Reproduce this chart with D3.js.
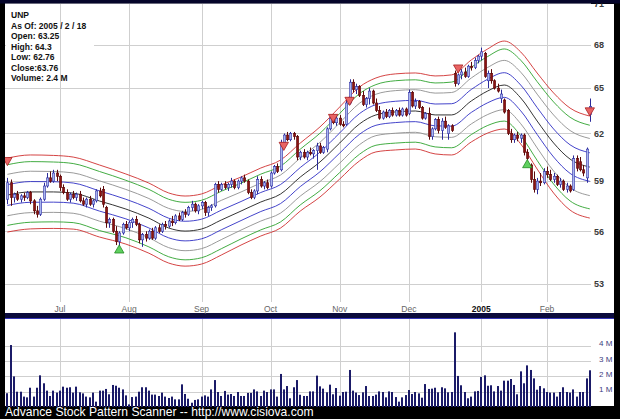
<!DOCTYPE html>
<html><head><meta charset="utf-8">
<script src="https://cdn.jsdelivr.net/npm/d3@7"></script>
<style>body{margin:0;background:#000;}svg{display:block;}</style>
</head><body>
<svg id="c" width="620" height="419"></svg>
<script>
// ---------------- DATA ----------------
const ticker = "UNP";
const asOf = "2005 / 2 / 18";
const opens = [57.9,58.9,58.0,58.2,57.9,58.1,58.0,58.3,57.8,57.2,57.0,57.9,58.7,59.2,59.0,59.5,59.3,58.6,58.3,57.9,58.2,58.0,58.2,57.8,57.6,57.9,57.6,57.8,58.4,58.5,
57.4,56.5,56.7,56.0,55.4,55.9,56.4,56.2,56.5,56.7,56.4,55.5,55.8,55.6,56.0,55.6,56.2,56.0,56.4,56.3,56.6,56.5,56.9,56.7,57.1,57.0,57.4,57.6,57.2,57.5,
57.7,57.1,57.4,57.5,58.8,58.5,58.8,58.6,58.8,59.0,58.6,59.0,59.2,59.0,58.3,58.0,58.4,59.1,58.7,58.9,58.7,59.5,59.9,59.7,61.4,61.9,61.6,62.0,61.8,60.5,
60.8,60.5,60.8,60.7,60.9,61.2,60.8,61.0,62.3,63.0,62.7,63.0,62.6,62.6,64.0,65.4,64.9,65.1,64.5,63.9,64.3,64.8,64.0,63.5,63.0,63.4,63.1,63.5,63.2,63.5,
63.2,63.6,63.3,64.7,63.8,64.1,63.7,63.0,63.3,61.8,62.3,62.9,62.2,62.8,62.0,62.5,66.0,65.3,65.9,66.1,65.8,66.5,66.4,66.9,67.2,67.4,65.5,66.0,65.5,65.0,
64.3,64.2,63.5,62.0,61.6,61.9,61.7,61.9,60.8,60.0,59.1,58.5,59.0,58.9,59.6,59.4,59.1,59.3,58.8,59.0,58.5,58.7,58.5,60.4,60.2,59.7,59.2,63.25];
const highs = [59.2,59.1,58.3,58.4,58.2,58.3,58.4,58.4,57.9,57.5,58.0,58.9,59.5,59.6,59.7,59.7,59.4,58.8,58.5,58.3,58.4,58.3,58.4,58.0,58.0,58.1,57.9,58.5,58.6,58.7,
57.5,56.8,56.8,56.3,56.0,56.5,56.6,56.6,56.8,56.9,56.5,55.9,56.0,56.1,56.2,56.3,56.4,56.5,56.6,56.7,56.9,57.0,57.1,57.2,57.3,57.5,57.8,57.7,57.6,57.8,
57.8,57.5,57.6,58.9,59.0,58.9,59.0,58.9,59.2,59.1,59.1,59.3,59.4,59.1,58.5,58.5,59.3,59.3,59.0,59.1,59.6,60.0,60.1,61.6,62.0,62.1,62.1,62.1,61.9,60.9,
61.0,60.9,61.1,61.0,61.4,61.4,61.2,62.4,63.2,63.2,63.1,63.2,62.8,64.2,65.6,65.6,65.3,65.2,64.8,64.4,65.0,64.9,64.3,63.8,63.5,63.6,63.6,63.7,63.6,63.7,
63.7,63.7,64.9,64.8,64.3,64.2,63.8,63.4,63.7,62.4,63.0,63.1,63.0,63.1,62.6,62.6,66.2,66.0,66.3,66.4,66.6,66.8,67.1,67.3,67.8,67.5,66.2,66.3,65.6,65.3,
64.9,64.3,63.6,62.3,62.0,62.1,62.0,62.0,61.0,60.1,59.6,59.2,59.5,59.8,59.9,59.7,59.5,59.4,59.2,59.1,58.9,58.8,60.6,60.6,60.5,60.0,61.1,64.3];
const lows = [57.6,57.5,57.7,57.8,57.7,57.8,57.9,57.6,57.0,56.8,56.9,57.8,58.6,58.9,58.9,59.0,58.4,58.2,57.8,57.7,57.9,57.8,57.7,57.5,57.4,57.5,57.4,57.7,58.0,57.4,
56.2,56.2,55.9,55.2,55.1,55.8,56.1,56.0,56.2,56.3,55.3,55.1,55.4,55.5,55.5,55.5,55.9,55.9,56.1,56.2,56.3,56.4,56.6,56.6,56.8,56.9,57.2,57.1,57.0,57.3,
56.9,56.9,57.2,57.4,58.3,58.4,58.5,58.4,58.6,58.5,58.5,58.8,58.9,58.2,57.9,57.9,58.2,58.6,58.5,58.5,58.6,59.4,59.5,59.6,61.1,61.5,61.5,61.6,60.3,60.3,
60.4,60.3,60.6,60.4,59.7,60.7,60.7,60.8,62.2,62.6,62.5,62.5,62.4,62.5,63.9,64.7,64.6,64.4,63.8,63.7,63.9,63.9,63.4,62.9,62.9,63.0,63.0,63.1,63.1,63.1,
63.1,63.1,63.2,63.7,63.6,63.6,62.9,62.9,61.6,61.6,62.2,62.0,61.6,62.3,61.6,62.1,65.1,65.2,65.6,65.7,65.7,66.2,66.3,66.7,66.9,65.7,65.0,65.3,64.9,64.7,
64.0,63.3,61.9,61.4,61.4,61.5,61.4,60.6,60.3,58.9,58.3,58.2,58.7,58.8,59.2,59.0,58.9,58.7,58.6,58.4,58.3,58.3,58.4,59.6,59.6,59.3,58.9,62.76];
const closes = [58.9,58.0,58.2,57.9,58.1,58.0,58.3,57.8,57.2,57.0,57.9,58.7,59.2,59.0,59.5,59.3,58.6,58.3,57.9,58.2,58.0,58.2,57.8,57.6,57.9,57.6,57.8,58.4,58.1,57.6,
56.5,56.7,56.0,55.4,55.9,56.4,56.2,56.5,56.7,56.4,55.5,55.8,55.6,56.0,55.6,56.2,56.0,56.4,56.3,56.6,56.5,56.9,56.7,57.1,57.0,57.4,57.6,57.2,57.5,57.7,
57.1,57.4,57.5,58.8,58.5,58.8,58.6,58.8,59.0,58.6,59.0,59.2,59.0,58.3,58.0,58.4,59.1,58.7,58.9,58.6,59.5,59.9,59.6,61.4,61.9,61.6,62.0,61.8,60.5,60.8,
60.5,60.8,60.7,60.9,61.2,60.8,61.1,62.3,63.0,62.7,63.0,62.6,62.5,64.0,65.4,64.9,65.1,64.5,63.9,64.3,64.8,64.0,63.5,63.0,63.4,63.1,63.5,63.2,63.5,63.2,
63.6,63.2,64.7,63.8,64.1,63.7,63.0,63.3,61.8,62.3,62.9,62.2,62.8,62.4,62.5,62.2,65.3,65.9,66.1,65.8,66.5,66.4,66.9,67.2,67.5,65.8,66.0,65.5,65.0,64.8,
64.6,63.4,62.0,61.6,61.9,61.7,61.9,60.8,60.4,59.1,58.5,59.0,58.9,59.6,59.4,59.1,59.3,58.8,59.0,58.5,58.7,58.4,60.4,59.8,59.7,59.5,61.0,63.76];
const volumes = [0.9,4.05,2.0,1.0,1.0,0.68,0.63,1.26,0.68,1.26,2.07,1.55,1.07,0.72,1.07,0.94,1.07,1.33,1.26,1.29,0.94,1.33,0.96,0.89,0.68,0.63,0.94,0.35,1.07,1.07,
1.18,0.83,1.44,1.39,1.26,1.15,0.76,0.17,0.65,0.68,1.0,1.29,1.29,1.07,0.81,0.81,0.72,0.94,0.68,0.59,0.68,0.5,0.5,1.48,0.85,0.54,0.28,0.46,0.5,0.68,
0.76,0.68,1.15,1.76,0.98,0.72,1.05,0.81,0.85,0.72,0.98,0.72,0.72,0.92,0.92,1.15,1.02,0.72,1.07,0.98,1.15,1.15,0.68,2.16,1.15,1.37,0.57,1.29,1.76,0.8,
0.72,0.72,1.02,1.02,2.05,1.35,1.2,0.96,1.46,0.83,1.24,0.74,0.98,1.0,2.42,1.07,0.94,0.78,0.96,1.37,0.72,0.72,0.81,1.02,0.98,0.63,1.02,0.98,0.65,0.35,
0.63,0.78,1.11,0.85,0.98,0.89,0.61,1.5,1.18,1.2,1.26,0.96,1.29,1.22,0.96,0.98,4.88,2.03,1.42,0.98,0.57,0.68,1.02,1.05,1.96,2.07,1.39,1.42,1.02,1.37,
1.07,1.72,1.72,1.83,1.44,0.83,2.33,1.55,2.72,2.42,1.87,1.13,1.37,1.22,0.98,0.94,0.94,0.68,0.98,1.29,0.98,0.94,1.15,0.68,0.98,0.98,1.87,2.4];

const monthLabels = ["Jul","Aug","Sep","Oct","Nov","Dec","2005","Feb"];
const monthIdx = [16,37,59,80,101,122,144,164];
const priceTicks = [53,56,59,62,65,68,71];
const volTicks = [1,2,3,4];
const volTickLabels = ["1 M","2 M","3 M","4 M"];

// smoothed centre line of the envelope and its half-width (%) at sample bars
const bandIdx = [0,7,14,20,28,36,43,49,54,59,65,71,77,83,89,95,101,107,112,118,124,130,135,141,146,151,156,161,166,171,177];
const bandMid = [58.15,58.34,58.34,58.27,57.79,57.31,56.77,56.19,56.01,56.13,56.66,57.19,57.73,58.21,59.25,60.19,61.39,62.62,63.21,63.41,63.47,63.21,63.21,64.14,64.81,65.21,64.34,62.81,61.39,60.37,59.87];
const bandPct = [3.85,3.85,3.8,3.75,3.75,3.65,3.65,3.65,3.65,3.65,3.65,3.54,3.54,3.54,3.54,3.65,3.75,3.85,3.85,3.96,3.96,4.06,4.17,4.27,4.38,4.58,4.79,5.0,5.21,5.31,5.31];
const bandLevels = [1,0.82,0.56,0.28,0,-0.28,-0.56,-0.82,-1];

const sellIdx = [0,84,99,104,137,177];
const sellPrice = [60.3,61.26,63.07,64.2,66.4,63.5];
const buyIdx = [34,158];
const buyPrice = [54.9,60.0];

// ---------------- DRAW ----------------
const svg = d3.select("#c");
const N = closes.length;
const L = 5, R = 614, PT = 4, PB = 313, VT = 319, VB = 406, PR = 591;

const x = d3.scaleLinear().domain([0, N - 1]).range([7.4, 589.8]);
const y = d3.scaleLog().domain([51.43, 70.95]).range([PB, PT]);
const yv = d3.scaleLinear().domain([0, 4]).range([407, 345.8]);

svg.append("rect").attr("x",0).attr("y",0).attr("width",620).attr("height",419).attr("fill","#000");
svg.append("rect").attr("x",L).attr("y",PT).attr("width",R-L).attr("height",PB-PT).attr("fill","#fff");
svg.append("rect").attr("x",L).attr("y",PB).attr("width",R-L).attr("height",VT-PB).attr("fill","#0b0b3c");
svg.append("rect").attr("x",L).attr("y",VT).attr("width",R-L).attr("height",VB-VT).attr("fill","#fff");
svg.append("line").attr("x1",L).attr("x2",R).attr("y1",VT-0.5).attr("y2",VT-0.5).attr("stroke","#3636b8");

const grid = "#cfcfcf";
// horizontal price grid
svg.append("g").selectAll("line").data(priceTicks).join("line")
  .attr("x1",L).attr("x2",PR).attr("y1",d=>Math.round(y(d))+0.5).attr("y2",d=>Math.round(y(d))+0.5)
  .attr("stroke",grid).attr("stroke-width",1);

// legend background
svg.append("rect").attr("x",L+1).attr("y",7).attr("width",88).attr("height",76).attr("fill","#fff");

// vertical month grid (price + volume)
svg.append("g").selectAll("line").data(monthIdx).join("line")
  .attr("x1",d=>Math.round(x(d))+0.5).attr("x2",d=>Math.round(x(d))+0.5)
  .attr("y1",PT).attr("y2",302).attr("stroke",grid);
svg.append("g").selectAll("line").data(monthIdx).join("line")
  .attr("x1",d=>Math.round(x(d))+0.5).attr("x2",d=>Math.round(x(d))+0.5)
  .attr("y1",VT).attr("y2",VB).attr("stroke",grid);
// volume horizontal grid
svg.append("g").selectAll("line").data(volTicks).join("line")
  .attr("x1",L).attr("x2",PR).attr("y1",d=>Math.round(yv(d))+0.5).attr("y2",d=>Math.round(yv(d))+0.5)
  .attr("stroke",grid);

// price labels
svg.append("g").selectAll("text").data(priceTicks).join("text")
  .attr("x",594).attr("y",d=>y(d)+3.3).text(d=>d)
  .attr("font-family","Liberation Sans, Arial, sans-serif").attr("font-size",9).attr("font-weight","bold").attr("fill","#3a3a3a");
// top dark strip covering top of "71"
svg.append("rect").attr("x",0).attr("y",0).attr("width",620).attr("height",PT-0.5).attr("fill","#05052a");

// month labels
svg.append("g").selectAll("text").data(monthLabels).join("text")
  .attr("x",(d,i)=>x(monthIdx[i])).attr("y",312).attr("text-anchor","middle").text(d=>d)
  .attr("font-family","Liberation Sans, Arial, sans-serif").attr("font-size",8.5)
  .attr("font-weight",d=>/^\d/.test(d)?"bold":"normal")
  .attr("fill",d=>/^\d/.test(d)?"#111":"#666");

// volume labels
svg.append("g").selectAll("text").data(volTicks).join("text")
  .attr("x",599).attr("y",d=>yv(d)+0.5).text((d,i)=>volTickLabels[i])
  .attr("font-family","Liberation Sans, Arial, sans-serif").attr("font-size",8)
  .attr("fill","#3c3c80");

// clip for plot
const defs = svg.append("defs");
defs.append("clipPath").attr("id","pc").append("rect").attr("x",L).attr("y",PT).attr("width",R-L).attr("height",PB-PT);
const plot = svg.append("g").attr("clip-path","url(#pc)");

// envelope bands
const bandColors = ["#cf2f2f","#2ea32e","#8e8e8e","#2f2fc4","#1e1e1e","#2f2fc4","#8e8e8e","#2ea32e","#cf2f2f"];
const line = d3.line().x(d=>x(d[0])).y(d=>y(d[1])).curve(d3.curveMonotoneX);
bandLevels.forEach((lv,k)=>{
  const pts = bandIdx.map((b,i)=>[b, bandMid[i]*Math.exp(lv*bandPct[i]/100)]);
  plot.append("path").attr("d",line(pts)).attr("fill","none").attr("stroke",bandColors[k]).attr("stroke-width",0.9);
});

// candles
const bars = d3.range(N);
const up = i => closes[i] >= opens[i];
plot.append("g").selectAll("line").data(bars).join("line")
  .attr("x1",i=>Math.round(x(i))+0.5).attr("x2",i=>Math.round(x(i))+0.5)
  .attr("y1",i=>y(highs[i])).attr("y2",i=>y(lows[i]))
  .attr("stroke",i=>up(i)?"#2a2a9a":"#5c0a0a").attr("stroke-width",1);
plot.append("g").selectAll("rect").data(bars).join("rect")
  .attr("x",i=>Math.round(x(i))-0.5).attr("width",2.2)
  .attr("y",i=>y(Math.max(opens[i],closes[i])))
  .attr("height",i=>Math.max(1,Math.abs(y(opens[i])-y(closes[i]))))
  .attr("fill",i=>up(i)?"#a9b6ee":"#8c1212")
  .attr("stroke",i=>up(i)?"#3434a8":"#5c0a0a").attr("stroke-width",0.6);

// signals
const tri = d3.symbol().type(d3.symbolTriangle).size(38);
plot.append("g").selectAll("path").data(sellIdx).join("path")
  .attr("d",tri).attr("transform",(d,i)=>`translate(${x(d)},${y(sellPrice[i])}) rotate(180)`)
  .attr("fill","#e86464").attr("stroke","#a82020").attr("stroke-width",0.8);
plot.append("g").selectAll("path").data(buyIdx).join("path")
  .attr("d",tri).attr("transform",(d,i)=>`translate(${x(d)},${y(buyPrice[i])})`)
  .attr("fill","#5fd05f").attr("stroke","#218a21").attr("stroke-width",0.8);

// volume bars
svg.append("g").selectAll("rect").data(bars).join("rect")
  .attr("x",i=>Math.round(x(i))-1).attr("width",2)
  .attr("y",i=>yv(volumes[i])).attr("height",i=>yv(0)-yv(volumes[i]))
  .attr("fill","#1b1b68");

// legend
const last = N - 1;
const legend = [ticker, "As Of: " + asOf, "Open: " + opens[last], "High: " + highs[last], "Low: " + lows[last],
  "Close:" + closes[last], "Volume: " + volumes[last] + " M"];
svg.append("g").selectAll("text").data(legend).join("text")
  .attr("x",11).attr("y",(d,i)=>18+i*10.5).text(d=>d)
  .attr("font-family","Liberation Sans, Arial, sans-serif").attr("font-size",8.5).attr("font-weight","bold").attr("fill","#111");

// footer
svg.append("text").attr("x",5).attr("y",416).text("Advance Stock Pattern Scanner -- http://www.cisiova.com")
  .attr("font-family","Liberation Sans, Arial, sans-serif").attr("font-size",12.1).attr("fill","#fff");
</script>
</body></html>
